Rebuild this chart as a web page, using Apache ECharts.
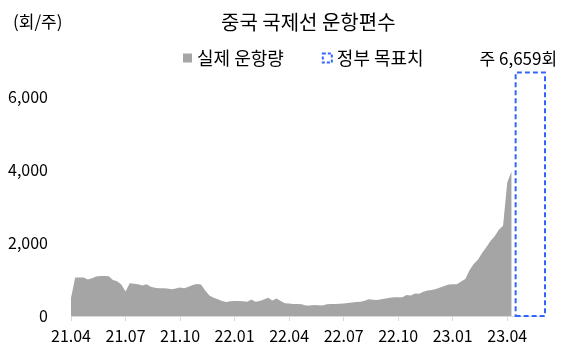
<!DOCTYPE html>
<html>
<head>
<meta charset="utf-8">
<script src="https://cdn.jsdelivr.net/npm/echarts@6/dist/echarts.min.js"></script>
<style>
  html, body { margin: 0; padding: 0; background: #fff; }
  #main { width: 563px; height: 351px; }
</style>
</head>
<body>
<div id="main"></div>
<script>
// quarter labels on the x axis, one every 13 weeks
const tickLabels = ['21.04', '21.07', '21.10', '22.01', '22.04', '22.07', '22.10', '23.01', '23.04'];
const weeksPerTick = 13;
const totalWeeks = 114;

// weekly flights (회/주), first week of 21.04 onwards
const actualFlights = [
  490, 1050, 1050, 1050, 1000, 1030, 1080, 1096, 1096, 1090,
  986, 950, 860, 667, 895, 880, 865, 831, 870, 800,
  770, 758, 758, 750, 730, 750, 776, 760, 800, 849,
  877, 860, 700, 560, 500, 457, 410, 380, 405, 411,
  411, 405, 393, 450, 393, 411, 450, 500, 425, 480,
  410, 350, 340, 330, 329, 320, 285, 290, 300, 295,
  285, 320, 325, 330, 335, 340, 355, 370, 380, 390,
  420, 455, 445, 438, 455, 480, 500, 511, 511, 515,
  575, 560, 615, 610, 660, 694, 710, 740, 776, 820,
  860, 868, 870, 945, 1010, 1250, 1420, 1540, 1720, 1880,
  2050, 2180, 2360, 2470, 3650, 3950
];

// government target (주 6,659회), shown as an empty dashed box after the last week
const targetFlights = 6659;
const targetFrom = 106;
const targetTo = 113;

const weeks = [];
for (let i = 0; i < totalWeeks; i++) {
    let q = i / weeksPerTick;
    weeks.push(i % weeksPerTick === 0 && tickLabels[q] ? tickLabels[q] : 'w' + i);
}
const isTick = function (idx) {
    return idx % weeksPerTick === 0 && idx / weeksPerTick < tickLabels.length;
};

const font = "'Noto Sans CJK KR', sans-serif";
let chart = echarts.init(document.getElementById('main'));

let option = {
    animation: false,
    textStyle: { fontFamily: font, color: '#000' },
    title: [
        {
            text: '중국 국제선 운항편수',
            left: 216,
            top: 7,
            textStyle: { fontFamily: font, fontSize: 20, fontWeight: 'normal', color: '#000' }
        },
        {
            text: '(회/주)',
            left: 8,
            top: 8,
            textStyle: { fontFamily: font, fontSize: 17, fontWeight: 'normal', color: '#000' }
        }
    ],
    legend: {
        left: 178,
        top: 44,
        itemGap: 38,
        itemWidth: 9,
        itemHeight: 9,
        textStyle: { fontFamily: font, fontSize: 18, color: '#000' },
        data: [
            { name: '실제 운항량', icon: 'rect', itemStyle: { color: '#A5A5A5' } },
            {
                name: '정부 목표치',
                icon: 'rect',
                itemStyle: { color: 'rgba(0,0,0,0)', borderColor: '#3366FF', borderWidth: 2, borderType: [3, 2] }
            }
        ]
    },
    grid: { left: 71, right: 18, top: 60, bottom: 35 },
    xAxis: {
        type: 'category',
        data: weeks,
        boundaryGap: false,
        axisLine: { lineStyle: { color: '#D9D9D9', width: 1 } },
        axisTick: { interval: isTick, length: 5, lineStyle: { color: '#D9D9D9' } },
        axisLabel: { interval: isTick, margin: 12, fontSize: 16, color: '#000', fontFamily: font },
        splitLine: { show: false }
    },
    yAxis: {
        type: 'value',
        min: 0,
        max: 7000,
        interval: 2000,
        axisLine: { show: false },
        axisTick: { show: false },
        splitLine: { show: false },
        axisLabel: {
            margin: 23,
            fontSize: 16,
            color: '#000',
            fontFamily: font,
            showMaxLabel: false,
            formatter: function (v) { return v.toLocaleString('en-US'); }
        }
    },
    series: [
        {
            name: '실제 운항량',
            type: 'line',
            data: actualFlights,
            symbol: 'none',
            lineStyle: { width: 0 },
            itemStyle: { color: '#A5A5A5' },
            areaStyle: { color: '#A5A5A5', opacity: 1 }
        },
        {
            name: '정부 목표치',
            type: 'line',
            data: [],
            itemStyle: { color: '#3366FF' },
            markArea: {
                silent: true,
                itemStyle: {
                    color: 'rgba(0,0,0,0)',
                    borderColor: '#3366FF',
                    borderWidth: 2,
                    borderType: [5, 3]
                },
                label: {
                    show: true,
                    position: 'top',
                    distance: 4,
                    offset: [-12, 0],
                    fontFamily: font,
                    fontSize: 17,
                    color: '#000',
                    formatter: function () { return '주 ' + targetFlights.toLocaleString('en-US') + '회'; }
                },
                data: [[
                    { xAxis: targetFrom, yAxis: 0 },
                    { xAxis: targetTo, yAxis: targetFlights }
                ]]
            }
        }
    ]
};
chart.setOption(option);
</script>
</body>
</html>
